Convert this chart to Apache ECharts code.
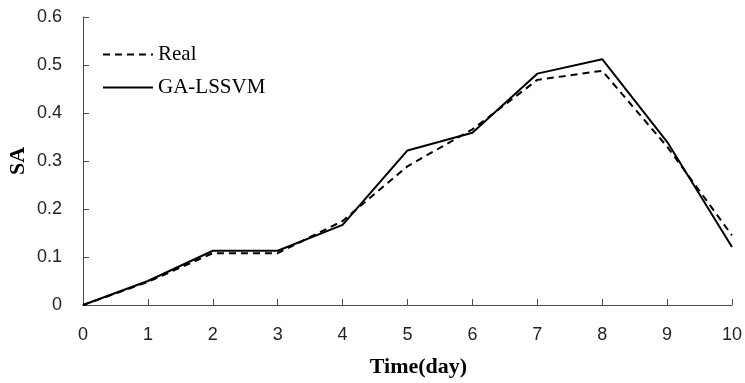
<!DOCTYPE html>
<html><head><meta charset="utf-8">
<script src="https://cdn.jsdelivr.net/npm/echarts@6/dist/echarts.min.js"></script>
<style>html,body{margin:0;padding:0;background:#fff}#c{width:745px;height:383px}</style>
</head><body><div id="c"></div>
<script>
const days = [0,1,2,3,4,5,6,7,8,9,10];
const realValues = [0,0.048,0.108,0.108,0.175,0.289,0.366,0.469,0.488,0.33,0.145];
const gaLssvmValues = [0,0.05,0.113,0.113,0.167,0.322,0.359,0.482,0.512,0.34,0.121];
const yTicks = [0,0.1,0.2,0.3,0.4,0.5,0.6];

const chart = echarts.init(document.getElementById('c'));
const axisColor = '#4a4a4a';
const tickFont = {fontFamily:'"Liberation Sans",sans-serif', fontSize:18, color:'#222'};
chart.setOption({
  animation:false,
  grid:{left:83,right:13,top:17,bottom:78,containLabel:false,outerBoundsMode:'none'},
  legend:{
    orient:'vertical', left:102, top:44, padding:0, itemWidth:50, itemHeight:14, itemGap:12,
    itemStyle:{opacity:0},
    textStyle:{fontFamily:'"Liberation Serif",serif', fontSize:21, color:'#000'},
    data:['Real','GA-LSSVM']
  },
  xAxis:{
    type:'value', min:0, max:10, interval:1,
    name:'Time(day)', nameLocation:'middle', nameGap:51,
    nameTextStyle:{fontFamily:'"Liberation Serif",serif', fontSize:22, fontWeight:'bold', color:'#000', padding:[0,0,0,22]},
    axisLine:{show:true,lineStyle:{color:axisColor,width:1}},
    axisTick:{show:true,inside:true,length:6,lineStyle:{color:axisColor}},
    axisLabel:Object.assign({margin:21},tickFont),
    splitLine:{show:false}
  },
  yAxis:{
    type:'value', min:0, max:0.6, interval:0.1,
    name:'SA', nameLocation:'middle', nameGap:54, nameRotate:90, nameMoveOverlap:false,
    nameTextStyle:{fontFamily:'"Liberation Serif",serif', fontSize:22, fontWeight:'bold', color:'#000'},
    axisLine:{show:true,lineStyle:{color:axisColor,width:1}},
    axisTick:{show:true,inside:true,length:6,lineStyle:{color:axisColor}},
    axisLabel:Object.assign({margin:21, formatter:v=>String(+v.toFixed(1))},tickFont),
    splitLine:{show:false}
  },
  series:[
    {name:'Real', type:'line', symbol:'none', data:days.map((d,i)=>[d,realValues[i]]),
     lineStyle:{color:'#000',width:2,type:[7,5]}, itemStyle:{color:'#000'}},
    {name:'GA-LSSVM', type:'line', symbol:'none', data:days.map((d,i)=>[d,gaLssvmValues[i]]),
     lineStyle:{color:'#000',width:2,type:'solid'}, itemStyle:{color:'#000'}}
  ]
});
</script></body></html>
